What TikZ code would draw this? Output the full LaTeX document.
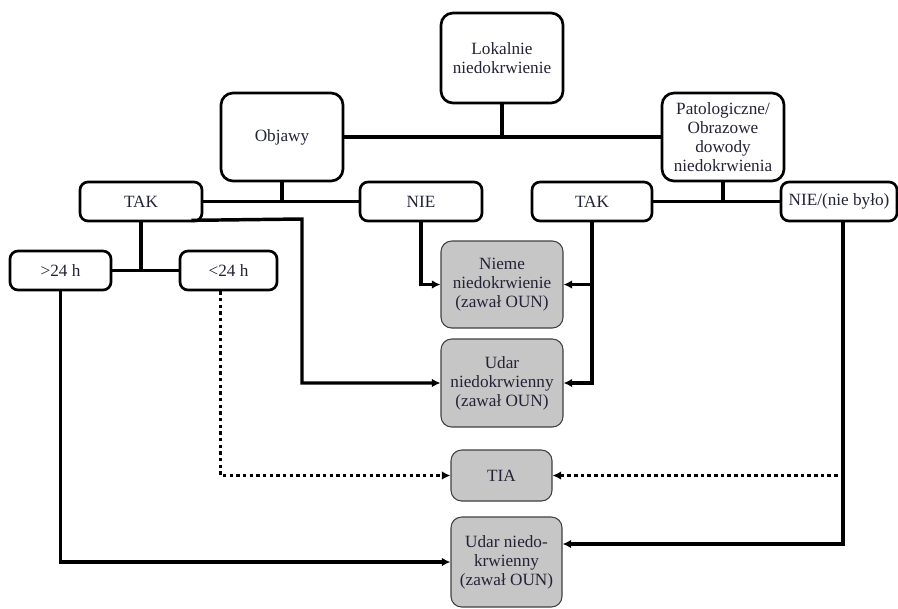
\documentclass[tikz,border=0pt]{standalone}
\usepackage{fontspec}
\setmainfont{Liberation Serif}
\newfontfamily\boxfont{Liberation Serif}
\usetikzlibrary{arrows.meta,calc}
\definecolor{inkc}{RGB}{35,35,55}
\definecolor{boxgray}{RGB}{198,198,198}
\begin{document}
\begin{tikzpicture}[x=0.75pt,y=-0.75pt,
    txt/.style={font=\boxfont\fontsize{12.9}{14.3}\selectfont,text=inkc,align=center,inner sep=0pt},
    bigbox/.style={txt,draw,line width=2pt,rounded corners=9pt,fill=white},
    smallbox/.style={txt,draw,line width=2pt,rounded corners=6pt,fill=white,minimum height=29.25pt},
    endbox/.style={txt,draw=black!75,line width=0.8pt,rounded corners=8pt,fill=boxgray},
    conn/.style={line width=2.6pt},
    arr/.style={conn,-{Latex[length=6.5pt,width=6.5pt]}},
    dots/.style={arr,dash pattern=on 2.6pt off 2.4pt}]
    \useasboundingbox (0,0) rectangle (898,608);
    \node[bigbox,minimum width=91.5pt,minimum height=67.5pt] (lok) at (502,58) {Lokalnie\\niedokrwienie};
    \node[bigbox,minimum width=91.5pt,minimum height=66pt] (obj) at (282,137) {Objawy};
    \node[bigbox,minimum width=91.5pt,minimum height=66pt] (pat) at (723,137) {Patologiczne/\\Obrazowe\\dowody\\niedokrwienia};
    \node[smallbox,minimum width=91.5pt] (tak1) at (141,201.5) {TAK};
    \node[smallbox,minimum width=91.5pt] (nie1) at (421,201.5) {NIE};
    \node[smallbox,minimum width=90pt] (tak2) at (592,201.5) {TAK};
    \node[smallbox,minimum width=87pt] (nie2) at (839,201.5) {NIE/(nie było)};
    \node[smallbox,minimum width=75.75pt] (gt) at (60.5,270.5) {>24 h};
    \node[smallbox,minimum width=72.75pt] (lt) at (228.5,270.5) {<24 h};
    \node[endbox,minimum width=91.5pt,minimum height=65.25pt] (nieme) at (502,284.5) {Nieme\\niedokrwienie\\(zawał OUN)};
    \node[endbox,minimum width=91.5pt,minimum height=66pt] (udar1) at (502,383) {Udar\\niedokrwienny\\(zawał OUN)};
    \node[endbox,minimum width=75.75pt,minimum height=38.25pt] (tia) at (501.5,475.5) {TIA};
    \node[endbox,minimum width=83.25pt,minimum height=67.5pt] (udar2) at (506.5,562) {Udar niedo-\\krwienny\\(zawał OUN)};
    \draw[conn] (obj.east) -- (pat.west);
    \draw[conn] (lok.south) -- (lok.south |- obj.east);
    \draw[conn] (tak1.east) -- (nie1.west);
    \draw[conn] (obj.south) -- (obj.south |- tak1.east);
    \draw[conn] (tak2.east) -- (nie2.west);
    \draw[conn] (pat.south) -- (pat.south |- tak2.east);
    \draw[conn] (gt.east) -- (lt.west);
    \draw[conn] (tak1.south) -- (tak1.south |- gt.east);
    \coordinate (tk) at (302,219);
    \draw[arr] ($(tak1.south east)+(-12,-2)$) -- (tk) |- (udar1.west);
    \draw[arr] (nie1.south) |- (nieme.west);
    \draw[arr] (tak2.south) |- (udar1.east);
    \draw[arr] (tak2.south |- nieme.east) -- (nieme.east);
    \draw[arr] (gt.south) |- (udar2.west);
    \draw[dots] ($(lt.south)+(-8,0)$) |- (tia.west);
    \coordinate (nb) at (843,221);
    \draw[dots] (nb) |- (tia.east);
    \draw[arr] (nb) |- ($(udar2.east)+(0,-18)$);
\end{tikzpicture}
\end{document}
